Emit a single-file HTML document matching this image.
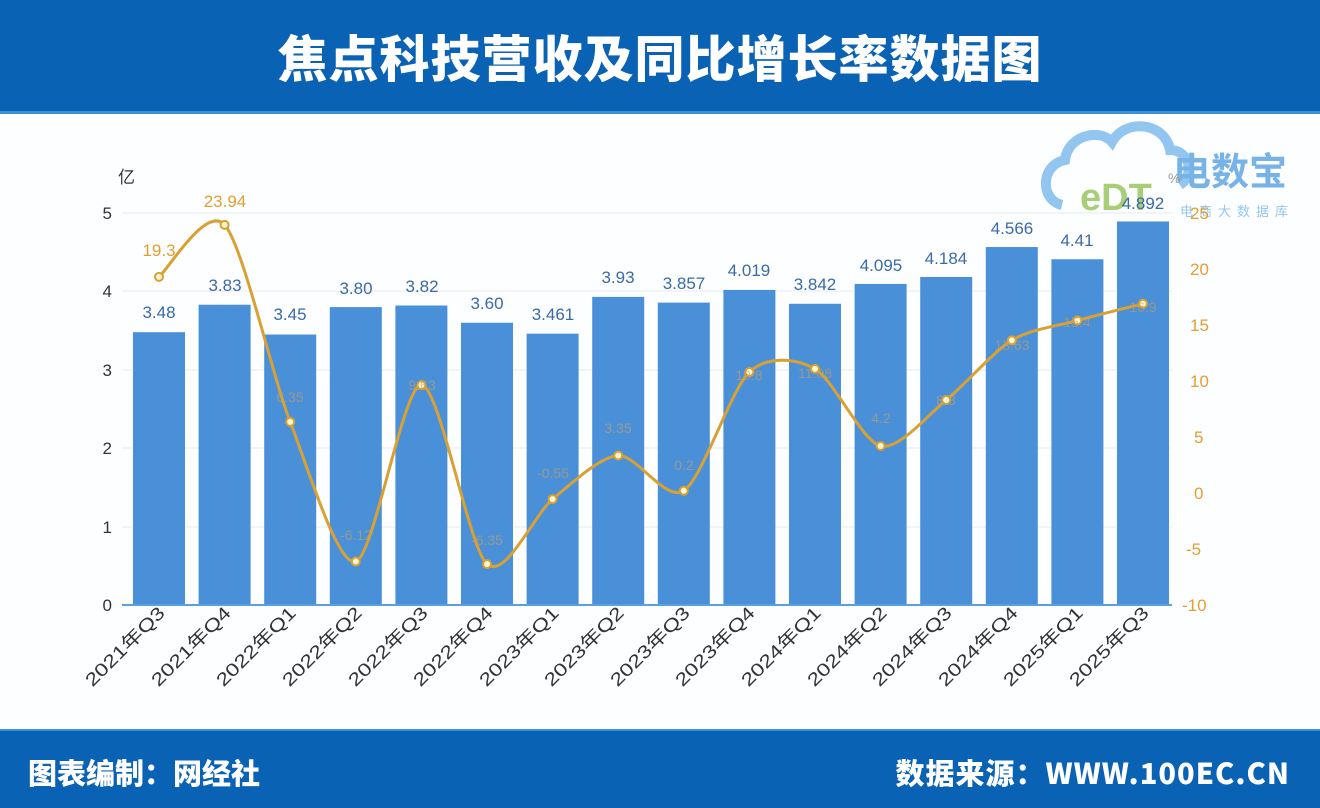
<!DOCTYPE html>
<html><head><meta charset="utf-8">
<style>
body{margin:0;width:1320px;height:806px;overflow:hidden;background:#fdfeff;font-family:"Liberation Sans","Noto Sans CJK SC",sans-serif;}
.hdr{position:absolute;left:0;top:0;width:1320px;height:111px;background:#0a62b4;border-bottom:3px solid #3d8fd6;}
.hdr div{position:absolute;left:0;width:1320px;top:20px;text-align:center;color:#fff;font-size:50px;font-weight:900;letter-spacing:1px;font-family:"Noto Sans CJK SC",sans-serif;}
.ftr{position:absolute;left:0;top:729px;width:1320px;height:77px;background:#0a62b4;border-top:2px solid #3d8fd6;}
.ftr span{position:absolute;top:20px;color:#fff;font-size:29px;font-weight:900;font-family:"Noto Sans CJK SC",sans-serif;}
</style></head><body>
<div class="hdr"><div>焦点科技营收及同比增长率数据图</div></div>
<svg id="s" width="1320" height="806" style="position:absolute;left:0;top:0" font-family="Liberation Sans, Noto Sans CJK SC, sans-serif">
<g stroke="#e8ecf2" stroke-width="1">
<line x1="122" x2="1172" y1="213" y2="213"/><line x1="122" x2="1172" y1="291" y2="291"/>
<line x1="122" x2="1172" y1="370" y2="370"/><line x1="122" x2="1172" y1="448" y2="448"/>
<line x1="122" x2="1172" y1="527" y2="527"/>
</g>
<g opacity="0.75">
<path d="M1062 205 C1040 200 1040 165 1065 160 C1068 135 1100 128 1112 142 C1125 118 1165 122 1170 150 C1190 150 1195 175 1180 185" fill="none" stroke="#6fb3ea" stroke-width="10"/>
<text x="1080" y="210" font-size="38" font-weight="bold" fill="#8cc04a">eDT</text>
<text x="1173" y="185" font-size="38" font-weight="bold" fill="#4c9be0" font-family="Noto Sans CJK SC, sans-serif">电数宝</text>
<text x="1180" y="216" font-size="13" fill="#6fb3ea" font-family="Noto Sans CJK SC, sans-serif" letter-spacing="6">电商大数据库</text>
</g>
<g id="bars" fill="#4a90d9"></g>
<line x1="122" x2="1172" y1="605" y2="605" stroke="#5aa0e0" stroke-width="2"/>
<g font-size="17" fill="#333" text-anchor="end">
<text x="112" y="219">5</text><text x="112" y="297">4</text><text x="112" y="376">3</text>
<text x="112" y="454">2</text><text x="112" y="533">1</text><text x="112" y="611">0</text>
</g>
<text x="118" y="183" font-size="17" fill="#333">亿</text>
<g font-size="17" fill="#e0a030">
<text x="1190" y="219">25</text><text x="1190" y="275">20</text><text x="1190" y="331">15</text>
<text x="1190" y="387">10</text><text x="1194" y="443">5</text><text x="1194" y="499">0</text>
<text x="1186" y="555">-5</text><text x="1182" y="611">-10</text>
<text x="1168" y="183" font-size="14" fill="#999">%</text>
</g>
<g font-size="17" fill="#3a6aa8" text-anchor="middle">
<text x="159" y="318">3.48</text><text x="225" y="291">3.83</text><text x="290" y="320">3.45</text>
<text x="356" y="294">3.80</text><text x="422" y="292">3.82</text><text x="487" y="309">3.60</text>
<text x="553" y="320">3.461</text><text x="618" y="283">3.93</text><text x="684" y="289">3.857</text>
<text x="749" y="276">4.019</text><text x="815" y="290">3.842</text><text x="881" y="271">4.095</text>
<text x="946" y="264">4.184</text><text x="1012" y="234">4.566</text><text x="1077" y="246">4.41</text>
<text x="1143" y="209">4.892</text>
</g>
<path id="ln" fill="none" stroke="#d9a033" stroke-width="3"/>
<g id="dots" fill="#fff8d0" stroke="#d9a033" stroke-width="2"></g>
<g font-size="17" fill="#e0a030" text-anchor="middle">
<text x="159" y="256">19.3</text><text x="225" y="207">23.94</text>
</g>
<g font-size="14" fill="#c9a060" text-anchor="middle" opacity="0.6">
<text x="290" y="402">6.35</text><text x="356" y="540">-6.12</text><text x="422" y="390">9.63</text>
<text x="487" y="545">-6.35</text><text x="553" y="478">-0.55</text><text x="618" y="433">3.35</text>
<text x="684" y="470">0.2</text><text x="749" y="380">10.8</text><text x="815" y="378">11.08</text>
<text x="881" y="423">4.2</text><text x="946" y="405">8.3</text><text x="1012" y="350">13.63</text>
<text x="1077" y="327">15.4</text><text x="1143" y="312">16.9</text>
</g>
<g font-size="18" fill="#333" text-anchor="end">
<text transform="translate(166,614) rotate(-45)" textLength="104" lengthAdjust="spacingAndGlyphs">2021年Q3</text>
<text transform="translate(232,614) rotate(-45)" textLength="104" lengthAdjust="spacingAndGlyphs">2021年Q4</text>
<text transform="translate(297,614) rotate(-45)" textLength="104" lengthAdjust="spacingAndGlyphs">2022年Q1</text>
<text transform="translate(363,614) rotate(-45)" textLength="104" lengthAdjust="spacingAndGlyphs">2022年Q2</text>
<text transform="translate(429,614) rotate(-45)" textLength="104" lengthAdjust="spacingAndGlyphs">2022年Q3</text>
<text transform="translate(494,614) rotate(-45)" textLength="104" lengthAdjust="spacingAndGlyphs">2022年Q4</text>
<text transform="translate(560,614) rotate(-45)" textLength="104" lengthAdjust="spacingAndGlyphs">2023年Q1</text>
<text transform="translate(625,614) rotate(-45)" textLength="104" lengthAdjust="spacingAndGlyphs">2023年Q2</text>
<text transform="translate(691,614) rotate(-45)" textLength="104" lengthAdjust="spacingAndGlyphs">2023年Q3</text>
<text transform="translate(756,614) rotate(-45)" textLength="104" lengthAdjust="spacingAndGlyphs">2023年Q4</text>
<text transform="translate(822,614) rotate(-45)" textLength="104" lengthAdjust="spacingAndGlyphs">2024年Q1</text>
<text transform="translate(888,614) rotate(-45)" textLength="104" lengthAdjust="spacingAndGlyphs">2024年Q2</text>
<text transform="translate(953,614) rotate(-45)" textLength="104" lengthAdjust="spacingAndGlyphs">2024年Q3</text>
<text transform="translate(1019,614) rotate(-45)" textLength="104" lengthAdjust="spacingAndGlyphs">2024年Q4</text>
<text transform="translate(1084,614) rotate(-45)" textLength="104" lengthAdjust="spacingAndGlyphs">2025年Q1</text>
<text transform="translate(1150,614) rotate(-45)" textLength="104" lengthAdjust="spacingAndGlyphs">2025年Q3</text>
</g>
</svg>
<div class="ftr"><span style="left:28px">图表编制：网经社</span><span style="right:30px;letter-spacing:1px">数据来源：WWW.100EC.CN</span></div>
<script>
var v=[3.48,3.83,3.45,3.80,3.82,3.60,3.461,3.93,3.857,4.019,3.842,4.095,4.184,4.566,4.41,4.892];
var g=[19.3,23.94,6.35,-6.12,9.63,-6.35,-0.55,3.35,0.2,10.8,11.08,4.2,8.3,13.63,15.4,16.9];
var ns="http://www.w3.org/2000/svg",b=document.getElementById('bars'),d=document.getElementById('dots');
var P=[];
for(var i=0;i<16;i++){var x=159+i*65.6,h=v[i]*78.4;
var r=document.createElementNS(ns,'rect');r.setAttribute('x',x-26);r.setAttribute('y',605-h);r.setAttribute('width',52);r.setAttribute('height',h);b.appendChild(r);
var y=213+(25-g[i])*11.2;P.push([x,y]);
var c=document.createElementNS(ns,'circle');c.setAttribute('cx',x);c.setAttribute('cy',y);c.setAttribute('r',4);d.appendChild(c);}
var s="M"+P[0][0]+" "+P[0][1];
for(var i=0;i<15;i++){var p0=P[Math.max(i-1,0)],p1=P[i],p2=P[i+1],p3=P[Math.min(i+2,15)],t=0.14;
s+=" C"+(p1[0]+(p2[0]-p0[0])*t)+" "+(p1[1]+(p2[1]-p0[1])*t)+" "+(p2[0]-(p3[0]-p1[0])*t)+" "+(p2[1]-(p3[1]-p1[1])*t)+" "+p2[0]+" "+p2[1];}
document.getElementById('ln').setAttribute('d',s);
</script>
</body></html>
